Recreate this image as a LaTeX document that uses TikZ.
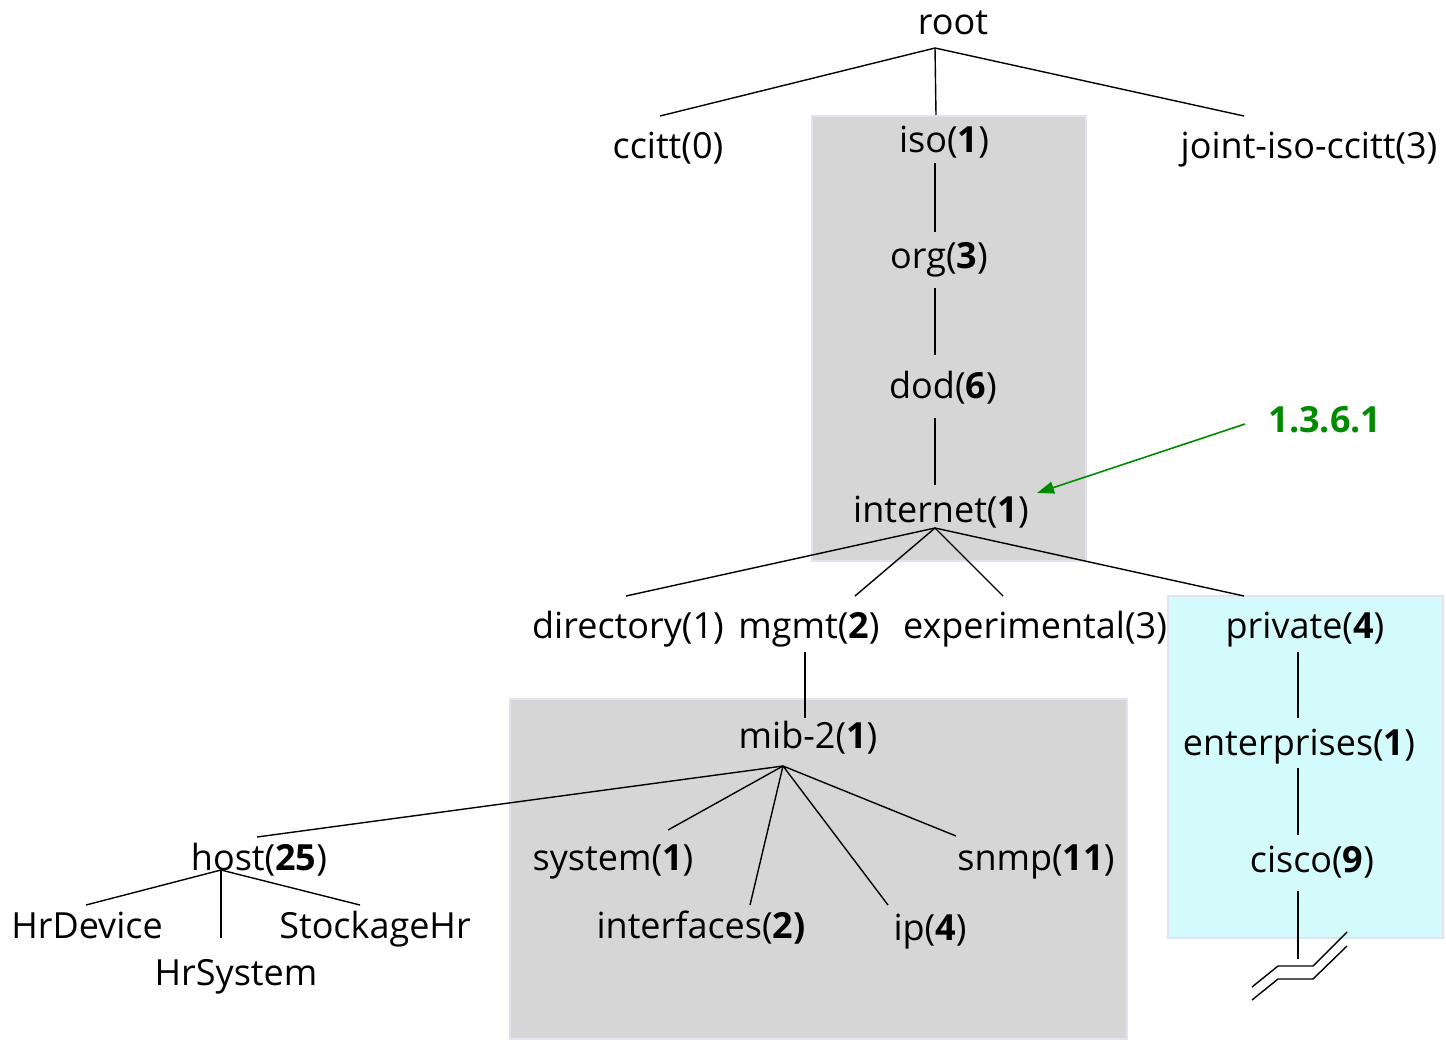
\documentclass[tikz,border=0pt]{standalone}
\usepackage{fontspec}
\setmainfont{Open Sans}
\usetikzlibrary{calc,arrows.meta}
\definecolor{boxgray}{HTML}{D6D6D6}
\definecolor{boxedge}{HTML}{E2E2F0}
\definecolor{boxcyan}{HTML}{D4FBFC}
\definecolor{oidgreen}{HTML}{008A00}
\begin{document}
\begin{tikzpicture}[x=1pt,y=-1pt,
  lbl/.style={inner sep=0pt,yshift=-10pt,text height=0.76em,text depth=0.24em,font=\fontsize{36}{40}\selectfont},
  edge/.style={line width=1.4pt,black},
  panel/.style={draw=boxedge,line width=1.2pt}]
\useasboundingbox (0,0) rectangle (1446,1039);
% panels
\fill[boxgray] (812,116) rectangle (1086,561);
\draw[panel] (812,116) rectangle (1086,561);
\fill[boxgray] (510,699) rectangle (1127,1039);
\draw[panel] (510,699) rectangle (1127,1039);
\fill[boxcyan] (1168,596) rectangle (1443,938);
\draw[panel] (1168,596) rectangle (1443,938);
% nodes
\node[lbl] (root) at (953,22) {root};
\node[lbl] (ccitt) at (668,146) {ccitt(0)};
\node[lbl] (iso) at (944,140) {iso(\textbf{1})};
\node[lbl] (joint) at (1309,146) {joint-iso-ccitt(3)};
\node[lbl] (org) at (939,256) {org(\textbf{3})};
\node[lbl] (dod) at (943,386) {dod(\textbf{6})};
\node[lbl] (internet) at (941,510) {internet(\textbf{1})};
\node[lbl,text=oidgreen,font=\fontsize{36}{40}\selectfont\bfseries] (oid) at (1325,420) {1.3.6.1};
\node[lbl] (directory) at (628,626) {directory(1)};
\node[lbl] (mgmt) at (809,626) {mgmt(\textbf{2})};
\node[lbl] (experimental) at (1035,626) {experimental(3)};
\node[lbl] (private) at (1305,626) {private(\textbf{4})};
\node[lbl] (enterprises) at (1299,743) {enterprises(\textbf{1})};
\node[lbl] (cisco) at (1312,860) {cisco(\textbf{9})};
\node[lbl] (mib) at (808,736) {mib-2(\textbf{1})};
\node[lbl] (host) at (259,858) {host(\textbf{25})};
\node[lbl] (system) at (613,858) {system(\textbf{1})};
\node[lbl] (interfaces) at (701,926) {interfaces(\textbf{2)}};
\node[lbl] (ip) at (930,928) {ip(\textbf{4})};
\node[lbl] (snmp) at (1036,858) {snmp(\textbf{11})};
\node[lbl] (hrdevice) at (87,926) {HrDevice};
\node[lbl] (hrsystem) at (236,973) {HrSystem};
\node[lbl] (stockage) at (375,926) {StockageHr};
% junction / end coordinates
\coordinate (rootB) at (935,48);
\coordinate (ccittT) at (660,116);
\coordinate (isoT) at (936,115);
\coordinate (jointT) at (1244,116);
\coordinate (isoB) at (935,163);
\coordinate (orgT) at (935,232);
\coordinate (orgB) at (935,288);
\coordinate (dodT) at (935,355);
\coordinate (dodB) at (935,418);
\coordinate (internetT) at (935,485);
\coordinate (internetB) at (935,528);
\coordinate (directoryT) at (626,596);
\coordinate (mgmtT) at (855,596);
\coordinate (experimentalT) at (1003,596);
\coordinate (privateT) at (1244,596);
\coordinate (mgmtB) at (805,652);
\coordinate (mibT) at (805,718);
\coordinate (mibB) at (783,766);
\coordinate (hostT) at (257,837);
\coordinate (systemT) at (668,830);
\coordinate (interfacesT) at (750,905);
\coordinate (ipT) at (888,905);
\coordinate (snmpT) at (956,836);
\coordinate (hostB) at (221,870);
\coordinate (hrdeviceT) at (86,905);
\coordinate (hrsystemT) at (221,938);
\coordinate (stockageT) at (360,905);
\coordinate (privateB) at (1298,652);
\coordinate (enterprisesT) at (1298,718);
\coordinate (enterprisesB) at (1298,768);
\coordinate (ciscoT) at (1298,835);
\coordinate (ciscoB) at (1298,891);
\coordinate (cut) at (1298,959);
\coordinate (oidS) at (1245,424);
\coordinate (oidE) at (1037,493);
% connectors
\draw[edge] (rootB) -- (ccittT);
\draw[edge] (rootB) -- (isoT);
\draw[edge] (rootB) -- (jointT);
\draw[edge] (isoB) -- (orgT);
\draw[edge] (orgB) -- (dodT);
\draw[edge] (dodB) -- (internetT);
\draw[edge] (internetB) -- (directoryT);
\draw[edge] (internetB) -- (mgmtT);
\draw[edge] (internetB) -- (experimentalT);
\draw[edge] (internetB) -- (privateT);
\draw[edge] (mgmtB) -- (mibT);
\draw[edge] (mibB) -- (hostT);
\draw[edge] (mibB) -- (systemT);
\draw[edge] (mibB) -- (interfacesT);
\draw[edge] (mibB) -- (ipT);
\draw[edge] (mibB) -- (snmpT);
\draw[edge] (hostB) -- (hrdeviceT);
\draw[edge] (hostB) -- (hrsystemT);
\draw[edge] (hostB) -- (stockageT);
\draw[edge] (privateB) -- (enterprisesT);
\draw[edge] (enterprisesB) -- (ciscoT);
\draw[edge] (ciscoB) -- (cut);
% break symbol
\draw[edge] (1252,987) -- (1278,966) -- (1313,966) -- (1347,932);
\draw[edge] (1252,1000) -- (1278,979) -- (1313,979) -- (1347,946);
% green arrow
\draw[oidgreen,line width=1.6pt,-{Triangle[length=17pt,width=12pt]}] (oidS) -- (oidE);
\end{tikzpicture}
\end{document}
